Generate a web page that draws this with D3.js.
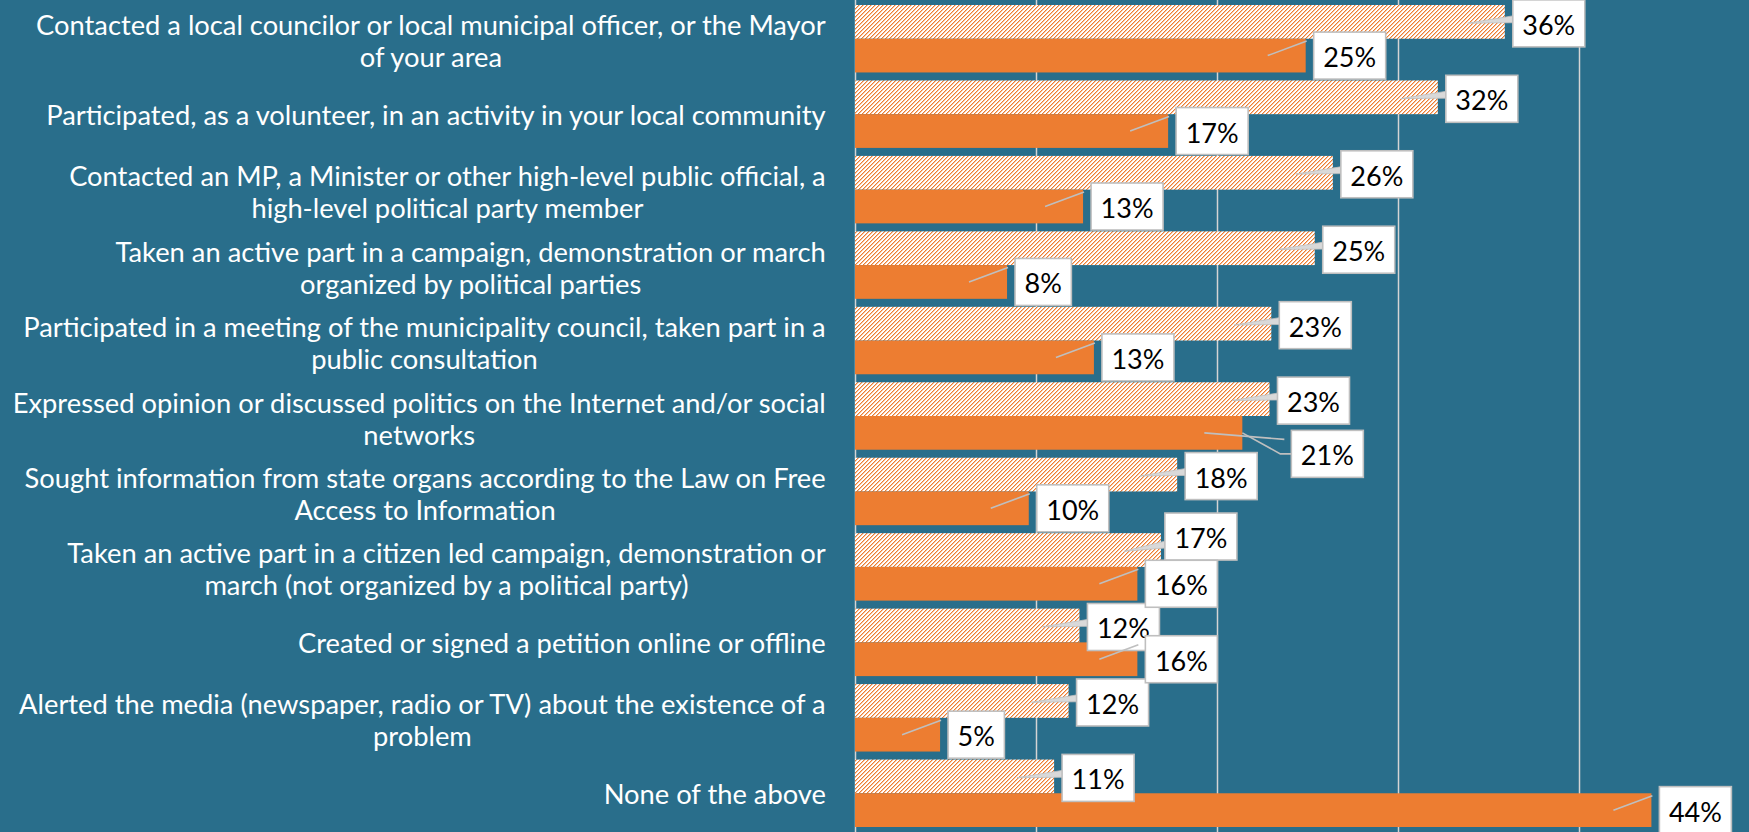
<!DOCTYPE html>
<html>
<head>
<meta charset="utf-8">
<script src="https://cdn.jsdelivr.net/npm/d3@7"></script>
<style>
  html, body { margin: 0; padding: 0; background: #296e8b; overflow: hidden; }
  svg { display: block; }
</style>
</head>
<body>
<svg id="chart" width="1749" height="832"></svg>
<script>
// ---- data ----
const categories = [
  "Contacted a local councilor or local municipal officer, or the Mayor\nof your area",
  "Participated, as a volunteer, in an activity in your local community",
  "Contacted an MP, a Minister or other high-level public official, a\nhigh-level political party member",
  "Taken an active part in a campaign, demonstration or march\norganized by political parties",
  "Participated in a meeting of the municipality council, taken part in a\npublic consultation",
  "Expressed opinion or discussed politics on the Internet and/or social\nnetworks",
  "Sought information from state organs according to the Law on Free\nAccess to Information",
  "Taken an active part in a citizen led campaign, demonstration or\nmarch (not organized by a political party)",
  "Created or signed a petition online or offline",
  "Alerted the media (newspaper, radio or TV) about the existence of a\nproblem",
  "None of the above"
];
const seriesNames = ["Series 1", "Series 2"];           // hatched, solid
const hatchedValues = [35.9, 32.2, 26.4, 25.4, 23.0, 22.9, 17.8, 16.9, 12.4, 11.8, 11.0];
const solidValues   = [24.9, 17.3, 12.6, 8.4, 13.2, 21.4, 9.6, 15.6, 15.6, 4.7, 44.0];
const xTicks = [0, 10, 20, 30, 40, 50];
// manual callout nudges (series index, category index, dx, dy) as in the original
const calloutNudges = [
  { s: 1, c: 5, dx: 41, dy: 21 },
  { s: 0, c: 7, dx: -4, dy: -15 }
];

// ---- layout ----
const W = 1749, H = 832;
const BG = "#296e8b", ORANGE = "#ED7D31", GRID = "#d4d4d4", BOXLINE = "#bfbfbf";
const FONT = "Lato, 'Open Sans', 'Liberation Sans', sans-serif";

const svg = d3.select("#chart");
svg.append("rect").attr("width", W).attr("height", H).attr("fill", BG);

const defs = svg.append("defs");
const pat = defs.append("pattern").attr("id", "hatch")
  .attr("patternUnits", "userSpaceOnUse").attr("width", 4).attr("height", 4);
pat.append("rect").attr("width", 4).attr("height", 4).attr("fill", "#ffffff");
[[3, 0], [2, 1], [1, 2], [0, 3]].forEach(([px, py]) => {
  pat.append("rect").attr("x", px).attr("y", py).attr("width", 1).attr("height", 1)
    .attr("fill", ORANGE).attr("shape-rendering", "crispEdges");
  pat.append("rect").attr("x", (px + 1) % 4).attr("y", py).attr("width", 1).attr("height", 1)
    .attr("fill", ORANGE).attr("fill-opacity", 0.45).attr("shape-rendering", "crispEdges");
});

const x = d3.scaleLinear().domain([0, 50]).range([855, 1760]);
const y = d3.scaleBand().domain(d3.range(categories.length))
  .range([1, 831]).paddingInner(0.106).paddingOuter(0.053);
const ySub = d3.scaleBand().domain([0, 1]).range([0, y.bandwidth()]);

// gridlines
const gridAxis = d3.axisBottom(x).tickValues(xTicks).tickSize(-H).tickFormat("");
const g = svg.append("g").attr("transform", `translate(0,${H})`).call(gridAxis);
g.select(".domain").remove();
g.selectAll(".tick line").attr("stroke", GRID).attr("stroke-width", 1.5);

// measure helper
const meas = svg.append("text").attr("font-family", FONT).attr("font-size", 100).attr("visibility", "hidden");
function width100(str) { meas.text(str); return meas.node().getComputedTextLength(); }

// fit font sizes to the original's text widths
const refLines = [["Contacted a local councilor or local municipal officer, or the Mayor", 792],
                  ["Expressed opinion or discussed politics on the Internet and/or social", 813],
                  ["Created or signed a petition online or offline", 527]];
const catFont = 100 * d3.sum(refLines, d => d[1]) / d3.sum(refLines, d => width100(d[0]));
const lblFont = 100 * 53 / width100("36%");

// category labels
const catG = svg.append("g").attr("font-family", FONT).attr("font-size", catFont).attr("fill", "#ffffff");
const RIGHT = 826, LH = 32;
categories.forEach((cat, i) => {
  const lines = cat.split("\n");
  const widths = lines.map(l => width100(l) * catFont / 100);
  const maxW = d3.max(widths);
  const cx = RIGHT - maxW / 2;
  const cy = y(i) + y.bandwidth() / 2 + (lines.length > 1 ? 2 : 0);
  lines.forEach((l, k) => {
    catG.append("text").attr("x", cx).attr("y", cy + (k - (lines.length - 1) / 2) * LH)
      .attr("text-anchor", "middle").attr("dominant-baseline", "central").text(l);
  });
});

// bars
const rows = categories.map((c, i) => ({ i, vals: [hatchedValues[i], solidValues[i]] }));
const barG = svg.append("g");
rows.forEach(r => {
  r.vals.forEach((v, s) => {
    barG.append("rect")
      .attr("x", x(0)).attr("y", y(r.i) + ySub(s))
      .attr("width", x(v) - x(0)).attr("height", ySub.bandwidth())
      .attr("fill", s === 0 ? "url(#hatch)" : ORANGE);
  });
});

// callouts
const fmt = v => d3.format(".0f")(v) + "%";
const BOXH = 47, PADX = 9.5;
function callout(layer, s, i, v) {
  const xe = x(v);
  const barC = y(i) + ySub(s) + ySub.bandwidth() / 2;
  const nudge = calloutNudges.find(n => n.s === s && n.c === i) || { dx: 0, dy: 0 };
  const txt = fmt(v);
  const tw = width100(txt) * lblFont / 100;
  const bw = tw + 2 * PADX;
  const bx = xe + 8 + nudge.dx;
  const bc = barC + (s === 0 ? 1.5 : 0) + nudge.dy;
  const by = bc - BOXH / 2;
  if (s === 0) {
    const tipX = xe - 37, tipY = barC + 1.3;
    const baseY = bc - 4 + (tipY - bc) * 0.8;
    layer.append("path")
      .attr("d", `M${tipX},${tipY} L${bx + 1},${baseY - 3.5} L${bx + 1},${baseY + 3.5} Z`)
      .attr("fill", "#d9d9d9").attr("stroke", BOXLINE).attr("stroke-width", 0.8);
  } else {
    layer.append("line")
      .attr("x1", xe - 38).attr("y1", barC).attr("x2", bx - 7).attr("y2", by + 9)
      .attr("stroke", BOXLINE).attr("stroke-width", 1.6);
    if (nudge.dx || nudge.dy) {
      layer.append("path")
        .attr("d", `M${xe},${barC} L${bx - 11},${bc} L${bx},${bc}`)
        .attr("fill", "none").attr("stroke", BOXLINE).attr("stroke-width", 1.6);
    }
  }
  layer.append("rect").attr("x", bx).attr("y", by).attr("width", bw).attr("height", BOXH)
    .attr("fill", "#ffffff").attr("stroke", BOXLINE).attr("stroke-width", 1.6);
  layer.append("text").attr("x", bx + bw / 2).attr("y", bc + 1)
    .attr("text-anchor", "middle").attr("dominant-baseline", "central")
    .attr("font-family", FONT).attr("font-size", lblFont).attr("fill", "#000000").text(txt);
}
const hatchLbl = svg.append("g");
const solidLbl = svg.append("g");
rows.forEach(r => {
  callout(hatchLbl, 0, r.i, r.vals[0]);
  callout(solidLbl, 1, r.i, r.vals[1]);
});
meas.remove();
</script>
</body>
</html>
